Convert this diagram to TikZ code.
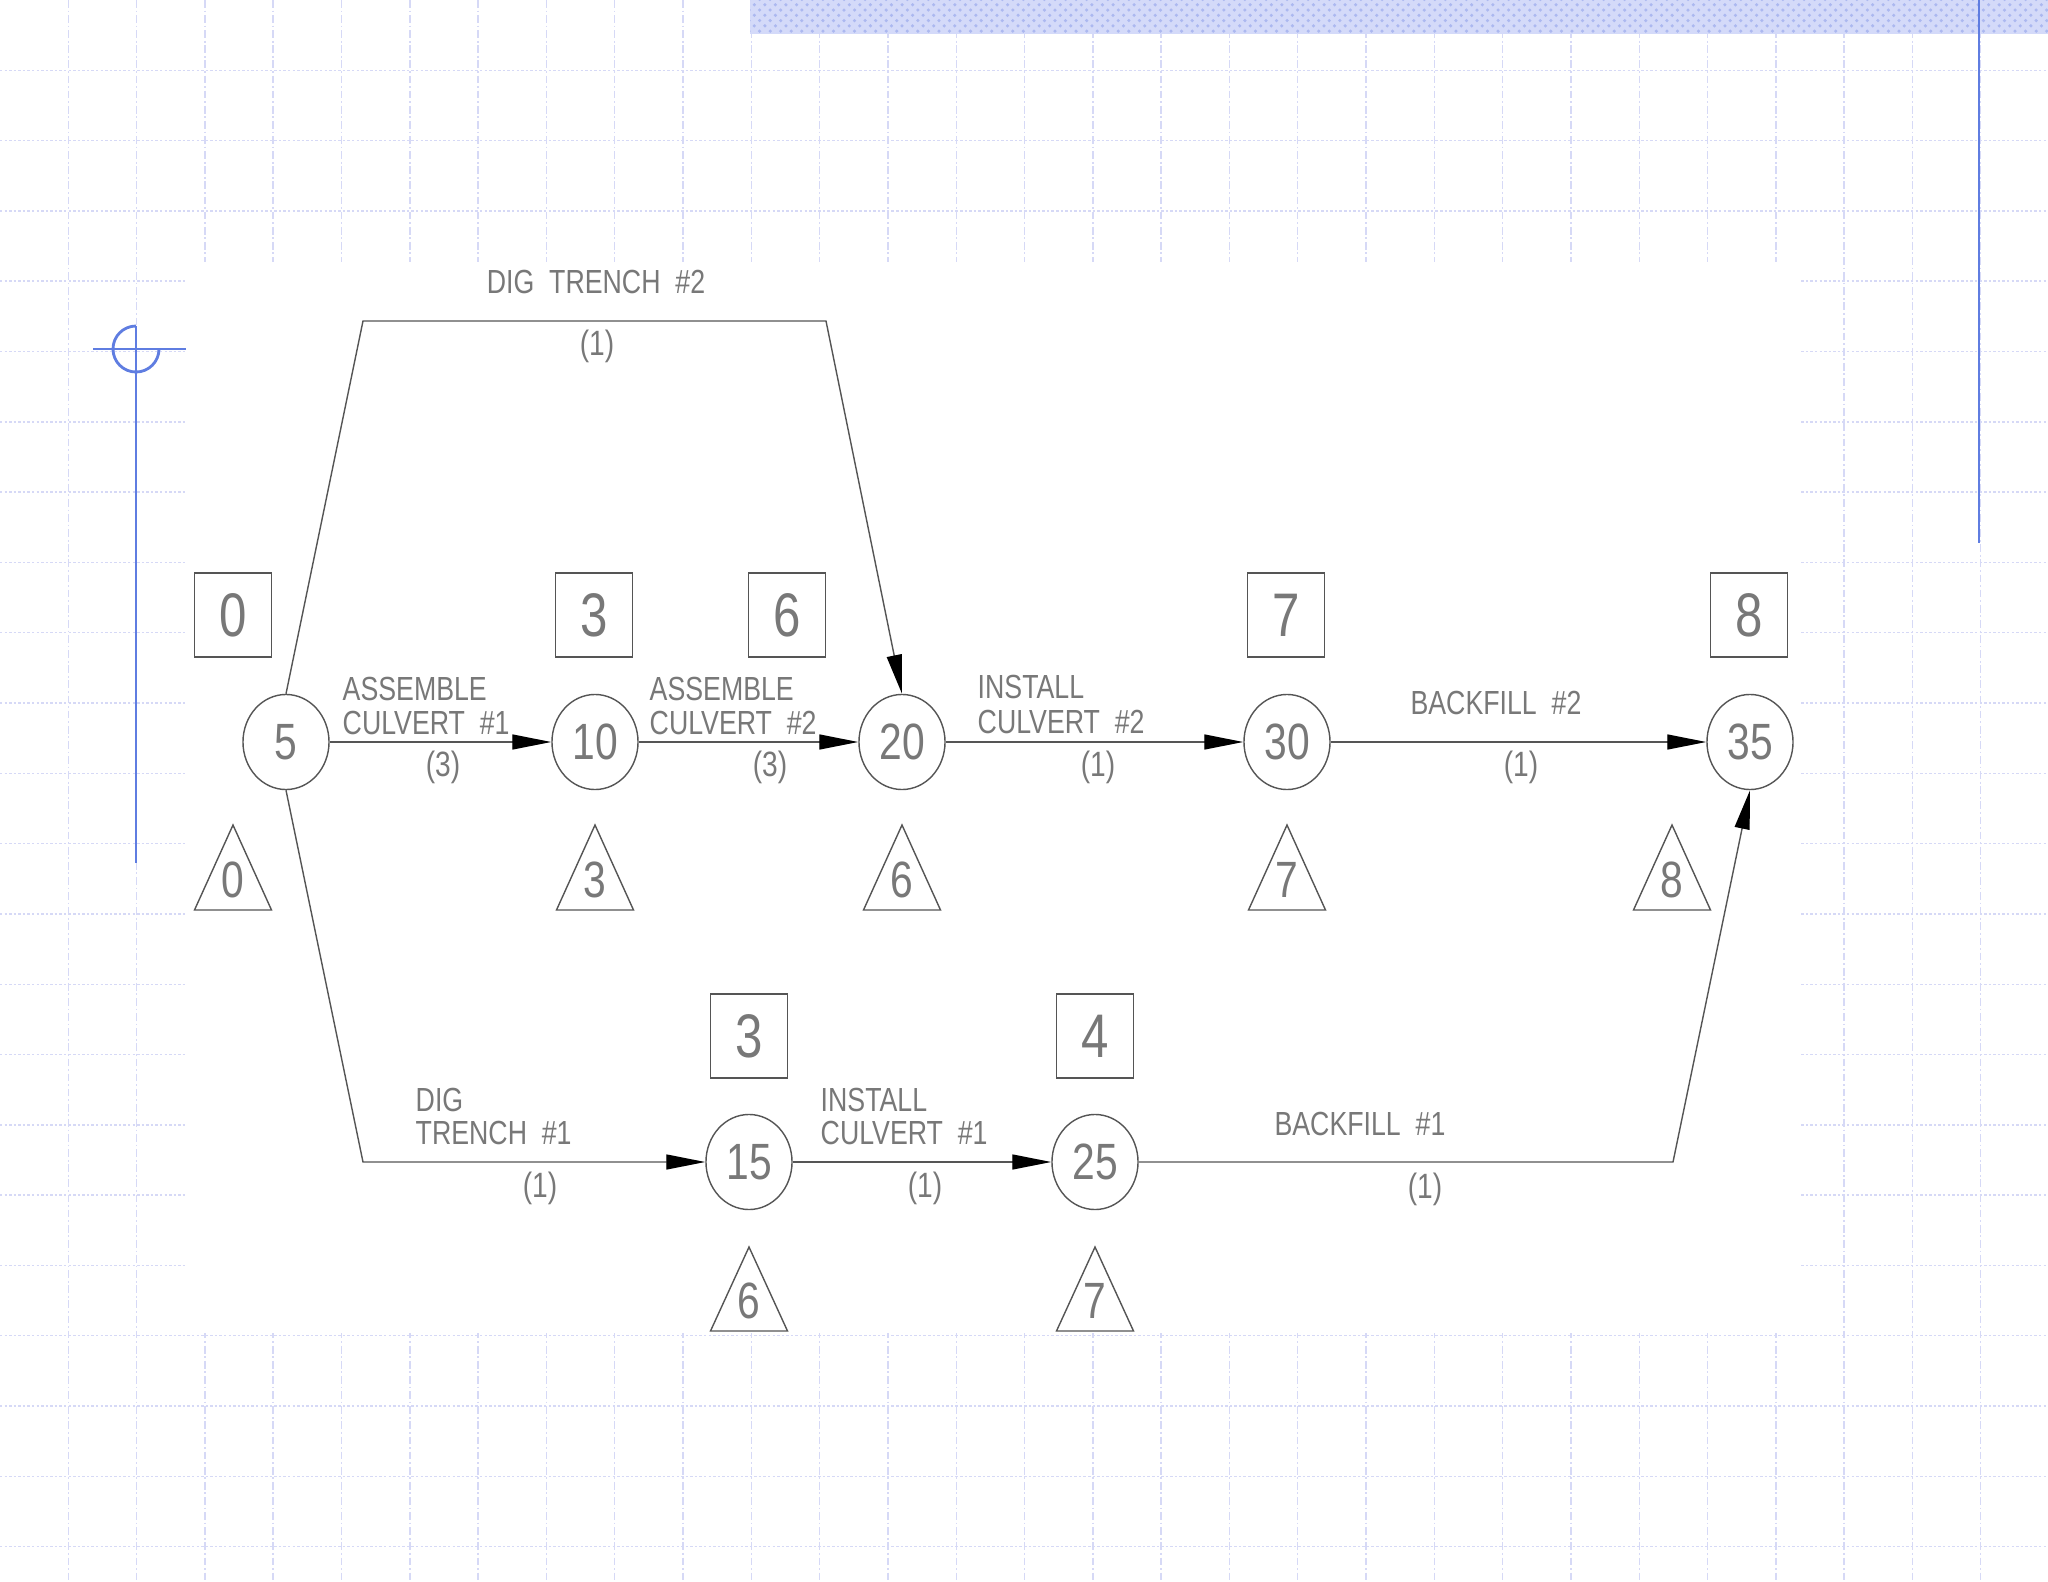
\documentclass[tikz,border=0pt]{standalone}
\usepackage{fontspec}
\usepackage{xcolor}
\usepackage{tikz}
\usetikzlibrary{arrows.meta,shapes.geometric,patterns}
\newfontfamily\cadfont{Liberation Sans}[FakeStretch=0.8]
\definecolor{cadline}{RGB}{85,85,85}
\definecolor{cadtext}{RGB}{120,120,120}
\definecolor{gridblue}{RGB}{214,217,246}
\definecolor{markblue}{RGB}{95,125,225}
\definecolor{stripblue}{RGB}{212,218,249}
\definecolor{stripdot}{RGB}{172,184,240}

\begin{document}
\begin{tikzpicture}[x=0.01cm,y=-0.01cm,
  evt/.style={ellipse,draw=cadline,line width=0.4pt,minimum width=0.86cm,minimum height=0.95cm,inner sep=0pt,
    text=cadtext,font=\cadfont\fontsize{14.5}{16}\selectfont},
  esbox/.style={rectangle,draw=cadline,line width=0.4pt,minimum width=0.77cm,minimum height=0.84cm,inner sep=0pt,
    text=cadtext,font=\cadfont\fontsize{17.5}{19}\selectfont},
  lfnum/.style={inner sep=0pt,text=cadtext,font=\cadfont\fontsize{14.5}{16}\selectfont},
  act/.style={inner sep=0pt,anchor=base west,text=cadtext,font=\cadfont\fontsize{9.5}{11}\selectfont},
  dur/.style={inner sep=0pt,text=cadtext,font=\cadfont\fontsize{10}{11}\selectfont},
  link/.style={draw=cadline,line width=0.4pt},
  tolink/.style={link,-{Triangle[length=0.39cm,width=0.15cm,color=black]}},
  gridv/.style={gridblue,line width=0.4pt,dash pattern=on 2.2pt off 0.8pt on 0.5pt off 0.8pt},
  gridh/.style={gridblue,line width=0.4pt,dash pattern=on 0.7pt off 0.6pt},
  markline/.style={markblue,line width=0.8pt}]
\useasboundingbox (0,0) rectangle (2048,1582);
\fill[white] (0,0) rectangle (2048,1582);

% background grid of the slide
\foreach \k in {1,...,29} \draw[gridv] ({68.3*\k},0) -- ({68.3*\k},1582);
\foreach \k in {1,...,22} \draw[gridh] (0,{70.3*\k}) -- (2048,{70.3*\k});
\fill[white] (187,262) rectangle (1800,1333);
\fill[stripblue] (750,0) rectangle (2048,34);
\fill[pattern=crosshatch dots,pattern color=stripdot] (750,0) rectangle (2048,34);
\draw[markline] (1979,0) -- (1979,543);
\draw[markline] (136,326) -- (136,863);
\draw[markline] (93,349) -- (186,349);
\draw[markline] (136,326) arc[start angle=90,end angle=360,radius=0.23cm];

% events
\node[evt] (n5) at (286,742) {5};
\node[evt] (n10) at (595,742) {10};
\node[evt] (n20) at (902,742) {20};
\node[evt] (n30) at (1287,742) {30};
\node[evt] (n35) at (1750,742) {35};
\node[evt] (n15) at (749,1162) {15};
\node[evt] (n25) at (1095,1162) {25};

% early times
\foreach \x/\t/\n in {233/0/a,594/3/b,787/6/c,1286/7/d,1749/8/e}
  \node[esbox] (es\n) at (\x,615) {\t};
\foreach \x/\t/\n in {749/3/f,1095/4/g}
  \node[esbox] (es\n) at (\x,1036) {\t};

% late times
\foreach \x/\t/\n in {233/0/a,595/3/b,902/6/c,1287/7/d,1672/8/e}{
  \draw[link] (\x-38.5,910) -- (\x,825) -- (\x+38.5,910) -- cycle;
  \node[lfnum] (lf\n) at (\x,880) {\t};}
\foreach \x/\t/\n in {749/6/f,1095/7/g}{
  \draw[link] (\x-38.5,1331) -- (\x,1247) -- (\x+38.5,1331) -- cycle;
  \node[lfnum] (lf\n) at (\x,1301) {\t};}

% activities
\coordinate (c1) at (363,321);
\coordinate (c2) at (826,321);
\coordinate (c3) at (363,1162);
\coordinate (c4) at (1673,1162);
\draw[tolink] (n5) -- (n10);
\draw[tolink] (n10) -- (n20);
\draw[tolink] (n20) -- (n30);
\draw[tolink] (n30) -- (n35);
\draw[tolink] (n5.north) -- (c1) -- (c2) -- (n20.north);
\draw[tolink] (n5.south) -- (c3) -- (n15);
\draw[tolink] (n15) -- (n25);
\draw[tolink] (n25) -- (c4) -- (n35.south);

\node[act,anchor=base] (a1) at (596,294) {DIG\ \ TRENCH\ \ \#2};
\node[dur] (d1) at (597,346) {(1)};
\node[act] (a2) at (342,700) {ASSEMBLE};
\node[act] (a2b) at (342,734) {CULVERT\ \ \#1};
\node[dur] (d2) at (443,767) {(3)};
\node[act] (a3) at (649,700) {ASSEMBLE};
\node[act] (a3b) at (649,734) {CULVERT\ \ \#2};
\node[dur] (d3) at (770,767) {(3)};
\node[act] (a4) at (977,698) {INSTALL};
\node[act] (a4b) at (977,733) {CULVERT\ \ \#2};
\node[dur] (d4) at (1098,767) {(1)};
\node[act,anchor=base] (a5) at (1496,714) {BACKFILL\ \ \#2};
\node[dur] (d5) at (1521,767) {(1)};
\node[act] (a6) at (415,1111) {DIG};
\node[act] (a6b) at (415,1144) {TRENCH\ \ \#1};
\node[dur] (d6) at (540,1188) {(1)};
\node[act] (a7) at (820,1111) {INSTALL};
\node[act] (a7b) at (820,1144) {CULVERT\ \ \#1};
\node[dur] (d7) at (925,1188) {(1)};
\node[act,anchor=base] (a8) at (1360,1135) {BACKFILL\ \ \#1};
\node[dur] (d8) at (1425,1189) {(1)};
\end{tikzpicture}
\end{document}
